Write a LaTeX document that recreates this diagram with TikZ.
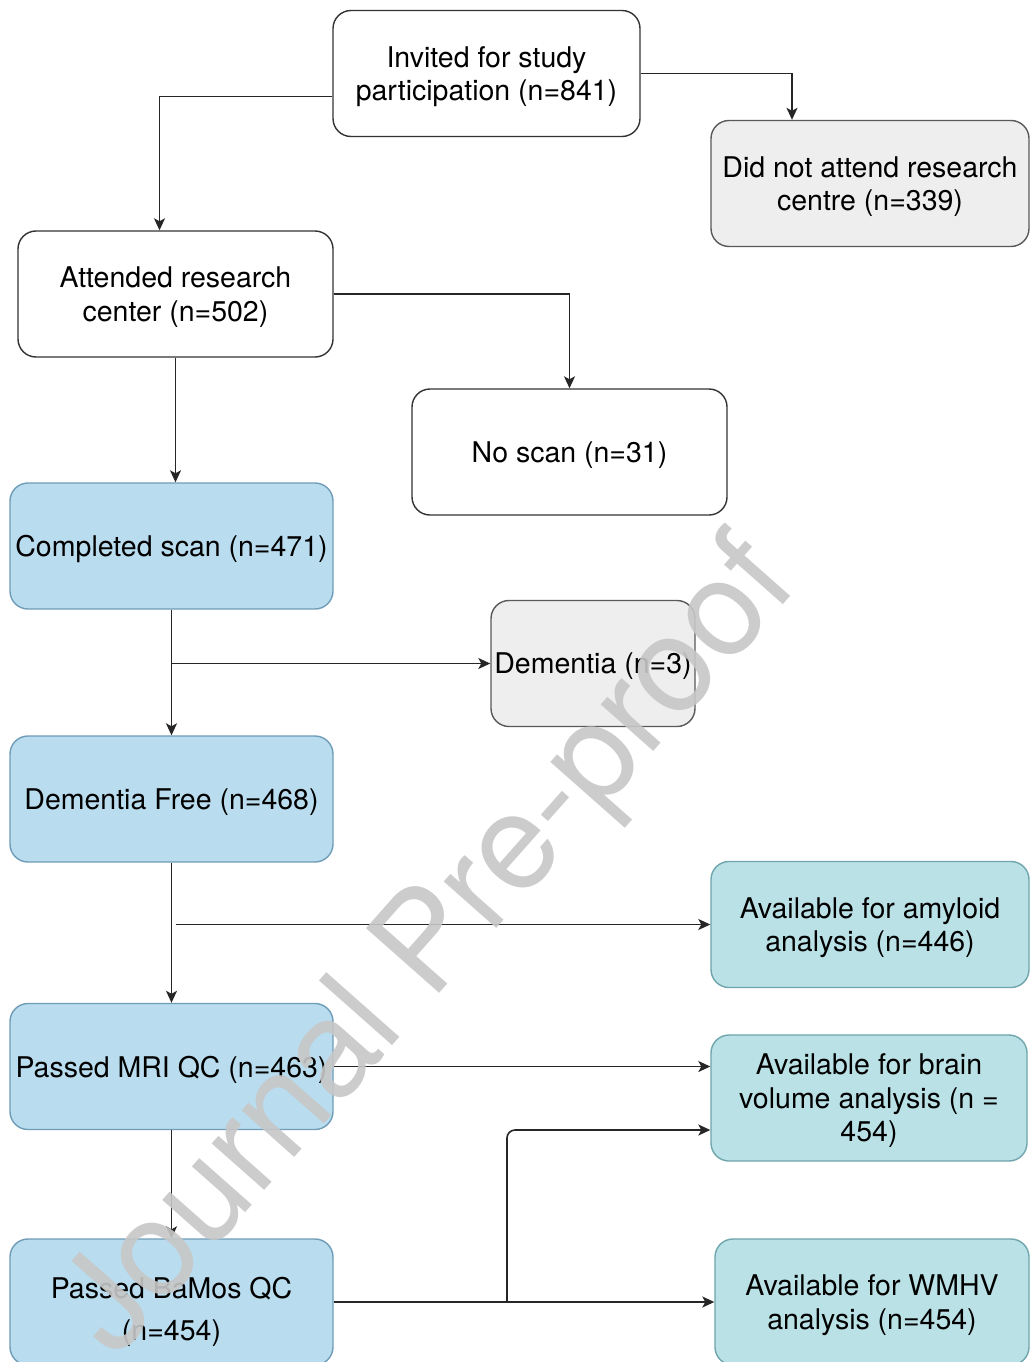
\documentclass[tikz,border=0pt]{standalone}
\usepackage{fontspec}
\setmainfont{TeX Gyre Heros}
\usetikzlibrary{arrows.meta}

\definecolor{outgray}{HTML}{EEEEEE}
\definecolor{scanblue}{HTML}{B9DCEE}
\definecolor{scanedge}{HTML}{6F9DB8}
\definecolor{availteal}{HTML}{BAE1E6}
\definecolor{availedge}{HTML}{6FA5AC}

\tikzset{
    flowbox/.style={draw, rounded corners=18pt, line width=1.4pt,
        minimum height=126pt, align=center, inner sep=2pt,
        font=\fontsize{28.5}{33.5}\selectfont, text depth=0pt},
    plainbox/.style={flowbox, fill=white, draw=black!80},
    outbox/.style={flowbox, fill=outgray, draw=black!65},
    scanbox/.style={flowbox, fill=scanblue, draw=scanedge},
    availbox/.style={flowbox, fill=availteal, draw=availedge}
}

\begin{document}
\begin{tikzpicture}[x=1pt,y=-1pt,line width=1.6pt,draw=black!85,>={Stealth[length=12pt,width=11pt,inset=3pt]}]
        \useasboundingbox[fill=white] (0,0) rectangle (1029,1362);

        % the recruitment boxes
        \node[plainbox, minimum width=307pt] (invited) at (486.5,73.5) {Invited for study\\participation (n=841)};
        \node[outbox, minimum width=318pt] (absent) at (870,183.5) {Did not attend research\\centre (n=339)};
        \node[plainbox, minimum width=315pt] (attended) at (175.5,294) {Attended research\\center (n=502)};
        \node[plainbox, minimum width=315pt] (noscan) at (569.5,452) {No scan (n=31)};

        % the scanned boxes, left column
        \node[scanbox, minimum width=323pt] (scanned) at (171.5,546) {Completed scan (n=471)};
        \node[outbox, minimum width=204pt] (dementia) at (593,663.5) {Dementia (n=3)};
        \node[scanbox, minimum width=323pt] (free) at (171.5,799) {Dementia Free (n=468)};
        \node[scanbox, minimum width=323pt] (mriqc) at (171.5,1066.5) {Passed MRI QC (n=463)};
        \node[scanbox, minimum width=323pt, text height=76pt] (bamosqc) at (171.5,1302) {Passed BaMos QC\\[8pt](n=454)};

        % the analysis boxes, right column
        \node[availbox, minimum width=318pt] (amyloid) at (870,924.5) {Available for amyloid\\analysis (n=446)};
        \node[availbox, minimum width=316pt] (brain) at (869,1098) {Available for brain\\volume analysis (n =\\454)};
        \node[availbox, minimum width=314pt] (wmhv) at (872,1302) {Available for WMHV\\analysis (n=454)};

        % the connectors
        \draw[->] ([yshift=-23pt]invited.west) -| ([xshift=-16pt]attended.north);
        \draw[->] (invited.east) -| ([xshift=-78pt]absent.north);
        \draw[->] (attended.east) -| (noscan.north);
        \foreach \a/\b in {attended/scanned, scanned/free, free/mriqc, mriqc/bamosqc}
                \draw[->] (\a.south) -- (\a.south |- \b.north);
        \draw[->] (scanned.south |- dementia.west) -- (dementia.west);
        \draw[->] ([xshift=4pt]free.south |- amyloid.west) -- (amyloid.west);
        \draw[->] (mriqc.east) -- (mriqc.east -| brain.west);
        \draw[->] (bamosqc.east) -- (bamosqc.east -| wmhv.west);
        \coordinate (split) at (507,1302);
        \draw[->,rounded corners=8pt] (split) |- ([yshift=-32pt]brain.west);

        % the watermark
        \node[rotate=48.5, text=black!22, opacity=0.9, font=\fontsize{134}{134}\selectfont] (stamp) at (432,950) {Journal Pre-proof};
\end{tikzpicture}
\end{document}
